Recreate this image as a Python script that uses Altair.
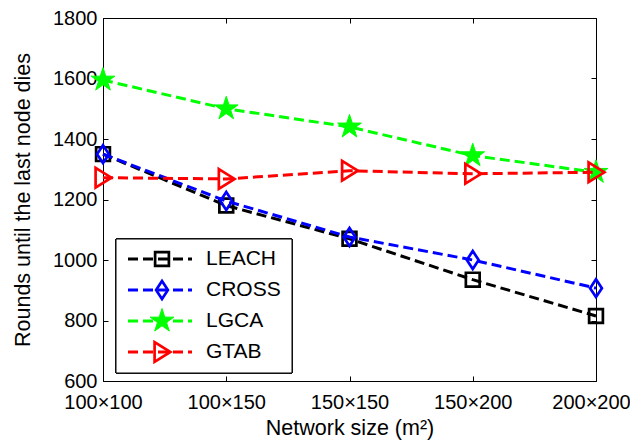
import altair as alt
import pandas as pd

# ---- data ----
SIZES = ["100×100", "100×150", "150×150", "150×200", "200×200"]
SERIES = ["LEACH", "CROSS", "LGCA", "GTAB"]
LEACH = [1350, 1180, 1070, 935, 815]
CROSS = [1350, 1195, 1076, 1000, 907]
LGCA = [1595, 1500, 1440, 1345, 1290]
GTAB = [1272, 1268, 1295, 1285, 1290]
Y_TICKS = [600, 800, 1000, 1200, 1400, 1600, 1800]

VALUES = {"LEACH": LEACH, "CROSS": CROSS, "LGCA": LGCA, "GTAB": GTAB}

# ---- styles ----
COLORS = {"LEACH": "#000000", "CROSS": "#0000ff", "LGCA": "#00ff00", "GTAB": "#ff0000"}
STAR = ("M0,-1L0.2245,-0.309L0.9511,-0.309L0.3633,0.118L0.5878,0.809L0,0.382"
        "L-0.5878,0.809L-0.3633,0.118L-0.9511,-0.309L-0.2245,-0.309Z")
SHAPES = {
    "LEACH": "M-1,-1L1,-1L1,1L-1,1Z",
    "CROSS": "M0,-1L0.66,0L0,1L-0.66,0Z",
    "LGCA": STAR,
    "GTAB": "M-0.75,-1L0.85,0L-0.75,1Z",
}
SYM_SIZE = {"LEACH": 190, "CROSS": 320, "LGCA": 620, "GTAB": 390}
FILLED = {"LEACH": False, "CROSS": False, "LGCA": True, "GTAB": False}
FONT = "Liberation Sans"
DASH = [10, 5]

rows = []
for s in SERIES:
    for sz, v in zip(SIZES, VALUES[s]):
        rows.append({"series": s, "size": sz, "value": v})
df = pd.DataFrame(rows)

W, H = 493, 363
xs = alt.Scale(domain=SIZES, padding=0)
ys = alt.Scale(domain=[600, 1800], nice=False, zero=False)

last_label = "datum.value === '" + SIZES[-1] + "'"

layers = []

# axes (bottom / left)
layers.append(
    alt.Chart(df).mark_point(opacity=0).encode(
        x=alt.X("size:O", scale=xs, axis=alt.Axis(
            orient="bottom", domain=False, tickSize=5, offset=-5, labelPadding=11,
            labelAngle=0, labelFontSize=20,
            labelOffset={"condition": {"test": last_label, "value": -5}, "value": 0},
            title="Network size (m²)",
            titleFontSize=21.5, titleY=58, titleBaseline="alphabetic")),
        y=alt.Y("value:Q", scale=ys, axis=alt.Axis(
            orient="left", values=Y_TICKS, format="d", domain=False, tickSize=5,
            offset=-5, labelPadding=6, labelFontSize=20,
            title="Rounds until the last node dies", titleFontSize=21.5,
            titleX=-85, titleBaseline="middle")),
    )
)
# axes (top / right), ticks only
layers.append(
    alt.Chart(df).mark_point(opacity=0).encode(
        x=alt.X("size:O", scale=xs, axis=alt.Axis(
            orient="top", domain=False, tickSize=5, offset=-5, labels=False, title=None)),
        y=alt.Y("value:Q", scale=ys, axis=alt.Axis(
            orient="right", values=Y_TICKS, domain=False, tickSize=5, offset=-5,
            labels=False, title=None)),
    )
)

# series
for s in SERIES:
    d = df[df["series"] == s]
    enc = dict(
        x=alt.X("size:O", scale=xs, axis=None),
        y=alt.Y("value:Q", scale=ys, axis=None),
    )
    layers.append(
        alt.Chart(d).mark_line(color=COLORS[s], strokeWidth=3, strokeDash=DASH).encode(**enc)
    )
    if FILLED[s]:
        pm = alt.Chart(d).mark_point(shape=SHAPES[s], size=SYM_SIZE[s], filled=True,
                                     fill=COLORS[s], stroke=COLORS[s], strokeWidth=1,
                                     opacity=1)
    else:
        pm = alt.Chart(d).mark_point(shape=SHAPES[s], size=SYM_SIZE[s], filled=False,
                                     stroke=COLORS[s], strokeWidth=2.7, opacity=1)
    layers.append(pm.encode(**enc))

# legend (manual, MATLAB style)
LEG_BOX = dict(x0=13, x1=189, y0=221, y1=355)
LEG_Y0, LEG_DY = 241, 31
leg_data = alt.Data(values=[{"name": s} for s in SERIES])
layers.append(
    alt.Chart(leg_data).mark_rect(fill="white", stroke="black", strokeWidth=1).encode(
        x=alt.value(LEG_BOX["x0"]), x2=alt.value(LEG_BOX["x1"]),
        y=alt.value(LEG_BOX["y0"]), y2=alt.value(LEG_BOX["y1"]),
    )
)
for i, s in enumerate(SERIES):
    yy = LEG_Y0 + i * LEG_DY
    one = alt.Data(values=[{"name": s}])
    layers.append(
        alt.Chart(one).mark_rule(color=COLORS[s], strokeWidth=3, strokeDash=DASH).encode(
            x=alt.value(25), x2=alt.value(89), y=alt.value(yy))
    )
    if FILLED[s]:
        lm = alt.Chart(one).mark_point(shape=SHAPES[s], size=SYM_SIZE[s], filled=True,
                                       fill=COLORS[s], stroke=COLORS[s], strokeWidth=1,
                                       opacity=1)
    else:
        lm = alt.Chart(one).mark_point(shape=SHAPES[s], size=SYM_SIZE[s], filled=False,
                                       stroke=COLORS[s], strokeWidth=2.7, opacity=1)
    layers.append(lm.encode(x=alt.value(59), y=alt.value(yy)))
    layers.append(
        alt.Chart(one).mark_text(align="left", baseline="middle", fontSize=21, font=FONT,
                                 color="black").encode(
            x=alt.value(103), y=alt.value(yy), text=alt.Text("name:N"))
    )

chart = alt.layer(*layers).resolve_axis(x="independent", y="independent").properties(
    width=W, height=H,
    autosize=alt.AutoSizeParams(type="none"),
    padding={"left": 95, "top": 10, "right": 34, "bottom": 59},
    background="white",
).configure_view(stroke="black", strokeWidth=1).configure_axis(
    grid=False, labelFont=FONT, titleFont=FONT, labelColor="black", titleColor="black",
    tickColor="black", tickWidth=1, titleFontWeight="normal",
)

chart.save("out.html", embed_options={"renderer": "svg", "actions": False})
